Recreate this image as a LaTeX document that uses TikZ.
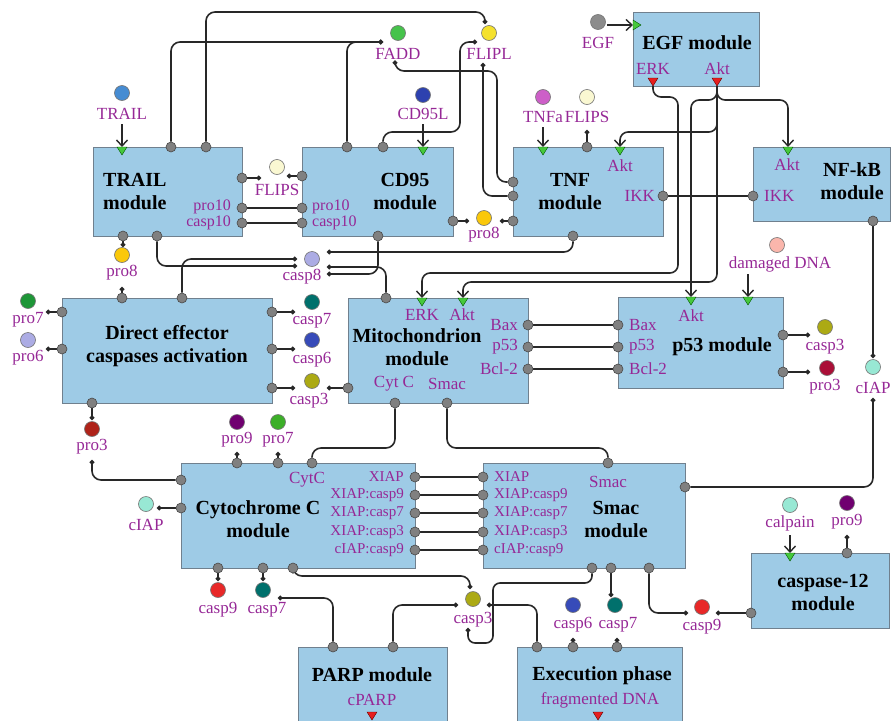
\documentclass[tikz,border=0pt]{standalone}
\usepackage{fontspec}
\setmainfont{Liberation Serif}
\usetikzlibrary{arrows.meta}

\definecolor{boxfill}{RGB}{158,203,230}
\definecolor{boxedge}{RGB}{112,128,142}
\definecolor{portfill}{RGB}{128,128,128}
\definecolor{portedge}{RGB}{72,72,72}
\definecolor{wirecol}{RGB}{40,40,40}
\definecolor{labpurple}{RGB}{150,40,150}
\definecolor{trigreen}{RGB}{70,200,60}
\definecolor{trired}{RGB}{230,30,30}
% species colours
\definecolor{cTRAIL}{RGB}{70,140,210}
\definecolor{cFADD}{RGB}{70,195,75}
\definecolor{cFLIPL}{RGB}{245,225,45}
\definecolor{cCDL}{RGB}{45,65,175}
\definecolor{cTNFa}{RGB}{205,95,200}
\definecolor{cFLIPS}{RGB}{250,248,210}
\definecolor{cEGF}{RGB}{140,140,140}
\definecolor{cPROviii}{RGB}{250,200,10}
\definecolor{cCASPviii}{RGB}{172,172,228}
\definecolor{cDNA}{RGB}{250,182,172}
\definecolor{cPROvii}{RGB}{30,150,55}
\definecolor{cPROvi}{RGB}{172,172,228}
\definecolor{cCASPvii}{RGB}{0,112,108}
\definecolor{cCASPvi}{RGB}{55,75,185}
\definecolor{cCASPiii}{RGB}{172,170,20}
\definecolor{cPROiiiA}{RGB}{175,35,25}
\definecolor{cPROiiiB}{RGB}{170,15,55}
\definecolor{cIAPcol}{RGB}{152,232,212}
\definecolor{cPROix}{RGB}{112,0,112}
\definecolor{cPROviiB}{RGB}{60,175,40}
\definecolor{cCASPix}{RGB}{232,40,40}

\newcommand\modlabfont{\fontsize{17}{19}\selectfont}
\newcommand\modportfont{\fontsize{16}{18}\selectfont}
\newcommand\modsmlfont{\fontsize{15}{17}\selectfont}
\newcommand\modttlfont{\fontsize{20}{23}\selectfont\bfseries}

% module box: name, left x, top y, width, height
\newcommand\Module[5]{\node[module, anchor=north west, minimum width=#4pt, minimum height=#5pt] (#1) at (#2,#3) {};}
% port: name, x, y
\newcommand\Port[3]{\node[port] (#1) at (#2,#3) {};}
% species: name, x, y, colour, label x, label y, label
\newcommand\Spc[7]{\node[species, fill=#4] (#1) at (#2,#3) {};
  \node[lab] (#1-lab) at (#5,#6) {#7};}
% input triangle (points down), top edge centred at (x,y)
\newcommand\InTri[3]{\fill[trigreen, draw=green!35!black, line width=0.4pt] (#2-5,#3) -- (#2+5,#3) -- (#2,#3+8) -- cycle;
  \coordinate (#1) at (#2,#3);}
% output triangle (points down), tip at (x,y)
\newcommand\OutTri[3]{\fill[trired, draw=red!40!black, line width=0.4pt] (#2-5,#3-8) -- (#2+5,#3-8) -- (#2,#3) -- cycle;
  \coordinate (#1) at (#2,#3);}

\pgfdeclarelayer{back}
\pgfdeclarelayer{mid}
\pgfsetlayers{back,mid,main}

\begin{document}
\begin{tikzpicture}[x=1pt,y=-1pt,
  module/.style={draw=boxedge, fill=boxfill, line width=0.9pt, inner sep=0pt, outer sep=0pt},
  port/.style={circle, draw=portedge, fill=portfill, line width=0.6pt, minimum size=10pt, inner sep=0pt},
  species/.style={circle, draw=black!55, line width=0.6pt, minimum size=15pt, inner sep=0pt},
  lab/.style={text=labpurple, font=\modlabfont, inner sep=0pt},
  plab/.style={text=labpurple, font=\modportfont, inner sep=0pt},
  slab/.style={text=labpurple, font=\modsmlfont, inner sep=0pt},
  title/.style={font=\modttlfont, align=center, inner sep=0pt},
  wire/.style={draw=wirecol, line width=1.6pt, rounded corners=9pt},
  dotend/.style={-{Circle[length=4.5pt]}},
  dotstart/.style={{Circle[length=4.5pt]}-},
  arrowend/.style={-{Straight Barb[length=6pt,width=11pt,line width=1.4pt]}},
]
\useasboundingbox (0,0) rectangle (891,720);

% ---------------- module boxes ----------------
\begin{pgfonlayer}{back}
\Module{trail}{93}{147}{149}{89}
\Module{cd95}{302}{147}{151}{89}
\Module{tnf}{513}{147}{150}{89}
\Module{egf}{633}{12}{126}{74}
\Module{nfkb}{753}{147}{137}{74}
\Module{deca}{62}{298}{210}{105}
\Module{mito}{348}{298}{180}{105}
\Module{p53}{618}{297}{165}{91}
\Module{cytc}{181}{463}{234}{105}
\Module{smac}{483}{463}{202}{105}
\Module{c12}{751}{553}{138}{75}
\Module{parp}{298}{647}{149}{80}
\Module{exec}{517}{647}{165}{80}
\end{pgfonlayer}

% ---------------- titles ----------------
\node[title, align=left, anchor=west] (trail-title) at (103,191.5) {TRAIL\\module};
\node[title] (cd95-title) at (405,191.5) {CD95\\module};
\node[title] (tnf-title) at (570,192) {TNF\\module};
\node[title] (egf-title) at (697,43) {EGF module};
\node[title] (nfkb-title) at (852,181) {NF-kB\\module};
\node[title] (deca-title) at (167,346) {Direct effector\\caspases activation};
\node[title] (mito-title) at (417,347) {Mitochondrion\\module};
\node[title] (p53-title) at (722,347) {p53 module};
\node[title] (cytc-title) at (258,519) {Cytochrome C\\module};
\node[title] (smac-title) at (616,519) {Smac\\module};
\node[title] (c12-title) at (823,592) {caspase-12\\module};
\node[title] (parp-title) at (372,675) {PARP module};
\node[title] (exec-title) at (602,676) {Execution phase};

% ---------------- labels inside modules ----------------
\node[plab, anchor=east] (l-trail-pro10) at (231,207) {pro10};
\node[plab, anchor=east] (l-trail-casp10) at (231,223) {casp10};
\node[plab, anchor=west] (l-cd95-pro10) at (312,207) {pro10};
\node[plab, anchor=west] (l-cd95-casp10) at (312,223) {casp10};
\node[lab] (l-tnf-akt) at (620,166) {Akt};
\node[lab, anchor=east] (l-tnf-ikk) at (655,196) {IKK};
\node[lab] (l-nfkb-akt) at (787,165) {Akt};
\node[lab, anchor=west] (l-nfkb-ikk) at (764,196) {IKK};
\node[lab] (l-egf-erk) at (653,69) {ERK};
\node[lab] (l-egf-akt) at (717,69) {Akt};
\node[lab] (l-mito-erk) at (422,315) {ERK};
\node[lab] (l-mito-akt) at (462,315) {Akt};
\node[lab, anchor=east] (l-mito-bax) at (518,325) {Bax};
\node[lab, anchor=east] (l-mito-p53) at (518,347) {p53};
\node[lab, anchor=east] (l-mito-bcl) at (518,369) {Bcl-2};
\node[lab] (l-mito-cytc) at (394,384) {Cyt C};
\node[lab] (l-mito-smac) at (447,384) {Smac};
\node[lab, anchor=west] (l-p53-bax) at (629,325) {Bax};
\node[lab, anchor=west] (l-p53-p53) at (629,347) {p53};
\node[lab, anchor=west] (l-p53-bcl) at (629,369) {Bcl-2};
\node[lab] (l-p53-akt) at (691,316) {Akt};
\node[lab] (l-cytc-cytc) at (307,480) {CytC};
\node[slab, anchor=east] (l-cytc-x1) at (404,477) {XIAP};
\node[slab, anchor=east] (l-cytc-x2) at (404,495) {XIAP:casp9};
\node[slab, anchor=east] (l-cytc-x3) at (404,513) {XIAP:casp7};
\node[slab, anchor=east] (l-cytc-x4) at (404,532) {XIAP:casp3};
\node[slab, anchor=east] (l-cytc-x5) at (404,550) {cIAP:casp9};
\node[lab] (l-smac-smac) at (608,482) {Smac};
\node[slab, anchor=west] (l-smac-x1) at (494,477) {XIAP};
\node[slab, anchor=west] (l-smac-x2) at (494,495) {XIAP:casp9};
\node[slab, anchor=west] (l-smac-x3) at (494,513) {XIAP:casp7};
\node[slab, anchor=west] (l-smac-x4) at (494,532) {XIAP:casp3};
\node[slab, anchor=west] (l-smac-x5) at (494,550) {cIAP:casp9};
\node[lab] (l-parp-cparp) at (372,700) {cPARP};
\node[lab] (l-exec-dna) at (600,700) {fragmented DNA};

% ---------------- input / output triangles ----------------
\InTri{trail-in}{122}{147}
\InTri{cd95-in}{423}{147}
\InTri{tnf-in}{543}{147}
\InTri{tnf-akt}{620}{147}
\InTri{nfkb-akt}{788}{147}
\InTri{mito-erk}{422}{298}
\InTri{mito-akt}{463}{298}
\InTri{p53-akt}{691}{297}
\InTri{p53-dna}{748}{297}
\InTri{c12-in}{790}{553}
\fill[trigreen, draw=green!35!black, line width=0.4pt] (633,20) -- (633,30) -- (641,25) -- cycle;
\coordinate (egf-in) at (633,25);
\OutTri{egf-erk}{653}{86}
\OutTri{egf-akt}{717}{86}
\OutTri{parp-out}{372}{720}
\OutTri{exec-out}{598}{720}

% ---------------- ports ----------------
\Port{trail-t1}{171}{147} \Port{trail-t2}{206}{147}
\Port{trail-r1}{242}{178} \Port{trail-r2}{242}{208} \Port{trail-r3}{242}{223}
\Port{trail-b1}{123}{236} \Port{trail-b2}{157}{236}
\Port{cd95-t1}{347}{147} \Port{cd95-t2}{383}{147}
\Port{cd95-l1}{302}{176} \Port{cd95-l2}{302}{208} \Port{cd95-l3}{302}{223}
\Port{cd95-r1}{453}{221} \Port{cd95-b1}{378}{236}
\Port{tnf-t1}{587}{147}
\Port{tnf-l1}{513}{182} \Port{tnf-l2}{513}{196} \Port{tnf-l3}{513}{221}
\Port{tnf-r1}{663}{196} \Port{tnf-b1}{573}{236}
\Port{nfkb-l1}{753}{196} \Port{nfkb-b1}{873}{221}
\Port{deca-t1}{122}{298} \Port{deca-t2}{182}{298}
\Port{deca-l1}{62}{312} \Port{deca-l2}{62}{349}
\Port{deca-r1}{272}{312} \Port{deca-r2}{272}{349} \Port{deca-r3}{272}{388}
\Port{deca-b1}{92}{403}
\Port{mito-t1}{386}{298} \Port{mito-l1}{348}{388}
\Port{mito-r1}{528}{325} \Port{mito-r2}{528}{347} \Port{mito-r3}{528}{369}
\Port{mito-b1}{395}{403} \Port{mito-b2}{447}{403}
\Port{p53-l1}{618}{325} \Port{p53-l2}{618}{347} \Port{p53-l3}{618}{369}
\Port{p53-r1}{783}{335} \Port{p53-r2}{783}{372}
\Port{cytc-t1}{237}{463} \Port{cytc-t2}{278}{463} \Port{cytc-t3}{312}{463}
\Port{cytc-l1}{181}{480} \Port{cytc-l2}{181}{508}
\Port{cytc-r1}{415}{477} \Port{cytc-r2}{415}{495} \Port{cytc-r3}{415}{513}
\Port{cytc-r4}{415}{532} \Port{cytc-r5}{415}{550}
\Port{cytc-b1}{218}{568} \Port{cytc-b2}{263}{568} \Port{cytc-b3}{293}{568}
\Port{smac-t1}{608}{463}
\Port{smac-l1}{483}{477} \Port{smac-l2}{483}{495} \Port{smac-l3}{483}{513}
\Port{smac-l4}{483}{532} \Port{smac-l5}{483}{550}
\Port{smac-r1}{685}{487}
\Port{smac-b1}{592}{568} \Port{smac-b2}{611}{568} \Port{smac-b3}{649}{568}
\Port{c12-t1}{847}{553} \Port{c12-l1}{751}{613}
\Port{parp-t1}{333}{647} \Port{parp-t2}{393}{647}
\Port{exec-t1}{537}{647} \Port{exec-t2}{573}{647} \Port{exec-t3}{617}{647}

% ---------------- species ----------------
\Spc{trailsp}{122}{93}{cTRAIL}{122}{114}{TRAIL}
\Spc{fadd}{398}{33}{cFADD}{398}{54}{FADD}
\Spc{flipl}{489}{33}{cFLIPL}{489}{54}{FLIPL}
\Spc{cd95l}{423}{95}{cCDL}{423}{114}{CD95L}
\Spc{tnfa}{543}{97}{cTNFa}{543}{117}{TNFa}
\Spc{flipsb}{587}{97}{cFLIPS}{587}{117}{FLIPS}
\Spc{egfsp}{598}{22}{cEGF}{598}{43}{EGF}
\Spc{flipsa}{277}{167}{cFLIPS}{277}{190}{FLIPS}
\Spc{proeighta}{122}{255}{cPROviii}{122}{273}{pro8}
\Spc{proeightb}{484}{218}{cPROviii}{484}{235}{pro8}
\Spc{caspeight}{312}{259}{cCASPviii}{302}{277}{casp8}
\Spc{ddna}{777}{245}{cDNA}{780}{264}{damaged DNA}
\Spc{prosevena}{28}{301}{cPROvii}{28}{320}{pro7}
\Spc{prosix}{28}{340}{cPROvi}{28}{358}{pro6}
\Spc{caspsevena}{312}{302}{cCASPvii}{312}{321}{casp7}
\Spc{caspsixa}{312}{340}{cCASPvi}{312}{360}{casp6}
\Spc{caspthreea}{312}{381}{cCASPiii}{309}{401}{casp3}
\Spc{caspthreep}{825}{327}{cCASPiii}{825}{347}{casp3}
\Spc{prothreep}{827}{368}{cPROiiiB}{825}{387}{pro3}
\Spc{ciapa}{873}{367}{cIAPcol}{873}{388}{cIAP}
\Spc{prothreea}{92}{429}{cPROiiiA}{92}{447}{pro3}
\Spc{proninea}{237}{422}{cPROix}{237}{440}{pro9}
\Spc{prosevenb}{278}{422}{cPROviiB}{278}{440}{pro7}
\Spc{ciapb}{146}{504}{cIAPcol}{146}{525}{cIAP}
\Spc{caspninea}{218}{590}{cCASPix}{218}{610}{casp9}
\Spc{caspsevenb}{263}{590}{cCASPvii}{267}{610}{casp7}
\Spc{caspthreeb}{473}{599}{cCASPiii}{473}{620}{casp3}
\Spc{caspsixb}{573}{605}{cCASPvi}{573}{625}{casp6}
\Spc{caspsevenc}{615}{605}{cCASPvii}{618}{625}{casp7}
\Spc{caspnineb}{702}{607}{cCASPix}{702}{627}{casp9}
\Spc{calpain}{790}{505}{cIAPcol}{790}{523}{calpain}
\Spc{proonineb}{847}{503}{cPROix}{847}{522}{pro9}

% free ends of connectors next to species
\coordinate (trail-arr) at (122,124);
\coordinate (cd95l-arr) at (423,124);
\coordinate (tnfa-arr) at (543,127);
\coordinate (egf-arr) at (607,25);
\coordinate (ddna-arr) at (748,274);
\coordinate (calpain-arr) at (790,535);
\coordinate (fadd-w) at (383,42);
\coordinate (fadd-s) at (395,65);
\coordinate (flipl-nw) at (485,24);
\coordinate (flipl-w) at (477,42);
\coordinate (flipl-s) at (483,63);
\coordinate (flipsb-s) at (587,130);
\coordinate (flipsa-w) at (261,178);
\coordinate (flipsa-e) at (287,176);
\coordinate (proeightb-w) at (469,221);
\coordinate (proeightb-e) at (500,221);
\coordinate (proeighta-n) at (123,247);
\coordinate (proeighta-s) at (122,287);
\coordinate (caspeight-w1) at (297,259);
\coordinate (caspeight-w2) at (297,266);
\coordinate (caspeight-e1) at (327,252);
\coordinate (caspeight-e2) at (327,267);
\coordinate (caspeight-e3) at (327,274);
\coordinate (prosevena-e) at (46,312);
\coordinate (prosix-e) at (46,349);
\coordinate (caspsevena-w) at (295,312);
\coordinate (caspsixa-w) at (295,349);
\coordinate (caspthreea-w) at (295,388);
\coordinate (caspthreea-e) at (327,388);
\coordinate (caspthreep-w) at (810,335);
\coordinate (prothreep-w) at (810,372);
\coordinate (ciapa-n) at (873,358);
\coordinate (ciapa-s) at (873,398);
\coordinate (prothreea-n) at (92,420);
\coordinate (prothreea-s) at (92,460);
\coordinate (proninea-s) at (237,452);
\coordinate (prosevenb-s) at (278,452);
\coordinate (ciapb-e) at (157,508);
\coordinate (caspninea-n) at (218,581);
\coordinate (caspsevenb-n) at (263,581);
\coordinate (caspsevenb-e) at (278,598);
\coordinate (caspthreeb-n) at (470,589);
\coordinate (caspthreeb-w) at (458,605);
\coordinate (caspthreeb-e) at (487,605);
\coordinate (caspthreeb-s) at (468,628);
\coordinate (caspsevenc-n) at (611,597);
\coordinate (caspsixb-s) at (573,638);
\coordinate (caspsevenc-s) at (617,638);
\coordinate (caspnineb-w) at (688,613);
\coordinate (caspnineb-e) at (716,613);
\coordinate (proonineb-s) at (847,535);

% ---------------- connectors ----------------
\begin{pgfonlayer}{mid}
% stimuli arrows
\draw[wire, arrowend] (trail-arr) -- (trail-in);
\draw[wire, arrowend] (cd95l-arr) -- (cd95-in);
\draw[wire, arrowend] (tnfa-arr) -- (tnf-in);
\draw[wire, arrowend] (egf-arr) -- (egf-in);
\draw[wire, arrowend] (ddna-arr) -- (p53-dna);
\draw[wire, arrowend] (calpain-arr) -- (c12-in);
% receptor modules, top
\draw[wire, dotend] (trail-t1) |- (fadd-w);
\draw[wire, dotend] (cd95-t1) |- (fadd-w);
\draw[wire, dotend] (trail-t2) |- (485,12) -- (flipl-nw);
\draw[wire, dotend] (cd95-t2) |- (460,132) |- (flipl-w);
\draw[wire, dotstart] (fadd-s) |- (497,71) |- (tnf-l1);
\draw[wire, dotstart] (flipl-s) |- (tnf-l2);
\draw[wire, dotstart] (flipsb-s) -- (tnf-t1);
\draw[wire, dotend] (trail-r1) -- (flipsa-w);
\draw[wire, dotend] (cd95-l1) -- (flipsa-e);
\draw[wire] (trail-r2) -- (cd95-l2);
\draw[wire] (trail-r3) -- (cd95-l3);
\draw[wire, dotend] (cd95-r1) -- (proeightb-w);
\draw[wire, dotend] (tnf-l3) -- (proeightb-e);
\draw[wire] (tnf-r1) -- (nfkb-l1);
% EGF outputs
\draw[wire, rounded corners=8pt, arrowend] (egf-erk) |- (678,97) |- (422,273) -- (mito-erk);
\draw[wire, rounded corners=8pt, arrowend] (egf-akt) |- (620,132) -- (tnf-akt);
\draw[wire, rounded corners=8pt, arrowend] (egf-akt) |- (788,100) -- (nfkb-akt);
\draw[wire, rounded corners=8pt, arrowend] (egf-akt) |- (691,100) -- (p53-akt);
\draw[wire, rounded corners=8pt, arrowend] (egf-akt) |- (463,282) -- (mito-akt);
% NF-kB to cIAP to Smac
\draw[wire, dotend] (nfkb-b1) -- (ciapa-n);
\draw[wire, dotstart] (ciapa-s) |- (smac-r1);
% caspase-8 hub
\draw[wire, dotend] (trail-b1) -- (proeighta-n);
\draw[wire, dotstart] (proeighta-s) -- (deca-t1);
\draw[wire, dotend] (trail-b2) |- (caspeight-w2);
\draw[wire, dotend] (deca-t2) |- (caspeight-w1);
\draw[wire, dotstart] (caspeight-e1) -| (tnf-b1);
\draw[wire, dotstart] (caspeight-e2) -| (mito-t1);
\draw[wire, dotstart] (caspeight-e3) -| (cd95-b1);
% direct effector caspases
\draw[wire, dotend] (deca-l1) -- (prosevena-e);
\draw[wire, dotend] (deca-l2) -- (prosix-e);
\draw[wire, dotend] (deca-r1) -- (caspsevena-w);
\draw[wire, dotend] (deca-r2) -- (caspsixa-w);
\draw[wire, dotend] (deca-r3) -- (caspthreea-w);
\draw[wire, dotend] (mito-l1) -- (caspthreea-e);
\draw[wire, dotend] (deca-b1) -- (prothreea-n);
\draw[wire, dotstart] (prothreea-s) |- (cytc-l1);
% mitochondrion and p53
\draw[wire] (mito-r1) -- (p53-l1);
\draw[wire] (mito-r2) -- (p53-l2);
\draw[wire] (mito-r3) -- (p53-l3);
\draw[wire, dotend] (p53-r1) -- (caspthreep-w);
\draw[wire, dotend] (p53-r2) -- (prothreep-w);
\draw[wire] (mito-b1) -- (395,448) -| (cytc-t3);
\draw[wire] (mito-b2) -- (447,448) -| (smac-t1);
% cytochrome C and Smac
\draw[wire, dotstart] (proninea-s) -- (cytc-t1);
\draw[wire, dotstart] (prosevenb-s) -- (cytc-t2);
\draw[wire, dotend] (cytc-l2) -- (ciapb-e);
\draw[wire] (cytc-r1) -- (smac-l1);
\draw[wire] (cytc-r2) -- (smac-l2);
\draw[wire] (cytc-r3) -- (smac-l3);
\draw[wire] (cytc-r4) -- (smac-l4);
\draw[wire] (cytc-r5) -- (smac-l5);
\draw[wire, dotend] (cytc-b1) -- (caspninea-n);
\draw[wire, dotend] (cytc-b2) -- (caspsevenb-n);
\draw[wire, dotstart] (caspsevenb-e) -| (parp-t1);
\draw[wire, dotend] (cytc-b3) -- (293,576) -| (caspthreeb-n);
\draw[wire, dotend] (parp-t2) |- (caspthreeb-w);
\draw[wire, dotend] (exec-t1) |- (caspthreeb-e);
\draw[wire, rounded corners=7pt, dotend] (smac-b1) |- (493,583) |- (468,643) -- (caspthreeb-s);
\draw[wire, dotend] (smac-b2) -- (caspsevenc-n);
\draw[wire, dotstart] (caspsixb-s) -- (exec-t2);
\draw[wire, dotstart] (caspsevenc-s) -- (exec-t3);
\draw[wire, dotend] (smac-b3) |- (caspnineb-w);
\draw[wire, dotstart] (caspnineb-e) -- (c12-l1);
\draw[wire, dotstart] (proonineb-s) -- (c12-t1);
\end{pgfonlayer}
\end{tikzpicture}
\end{document}
